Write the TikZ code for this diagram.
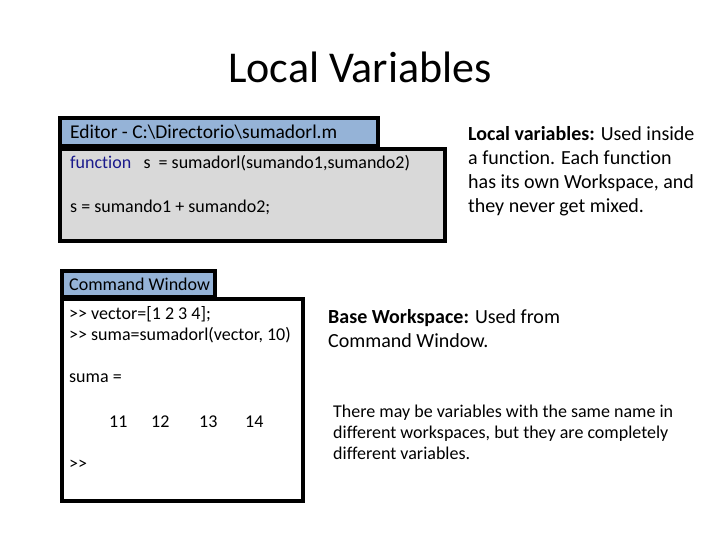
\documentclass[tikz,border=0pt]{standalone}
\usepackage{fontspec}
\setmainfont{Carlito}[Ligatures=NoCommon]
\usetikzlibrary{positioning}
\definecolor{titleblue}{HTML}{95B3D7}
\definecolor{editgray}{HTML}{D9D9D9}
\definecolor{keyblue}{HTML}{1A1A8C}
\newcommand{\prompt}{{>}{>}}
\tikzset{
  winbox/.style={draw=black, line width=3.5pt},
  codetext/.style={anchor=west, inner sep=0pt, font=\fontsize{18}{21}\selectfont},
  notetext/.style={anchor=north west, inner sep=0pt, align=left}
}
\begin{document}
\begin{tikzpicture}[x=1pt, y=-1pt]
    \useasboundingbox (0,0) rectangle (720,540);

    % Title
    \node (title) at (360,67) {\fontsize{44}{52}\selectfont Local Variables};

    % Editor
    \draw[winbox, fill=editgray] (60,149) rectangle (445,241);
    \draw[winbox, fill=titleblue] (60,118) rectangle (378,146);
    \node[codetext, font=\fontsize{19.5}{22}\selectfont] (edtitle) at (70,132) {Editor - C:\textbackslash Directorio\textbackslash sumadorl.m};
    \node[codetext] (edline1) at (70,163) {\textcolor{keyblue}{function}\ \ \ s \ = sumadorl(sumando1,sumando2)};
    \node[codetext] (edline2) at (70,207) {s = sumando1 + sumando2;};

    % Command Window
    \draw[winbox, fill=white] (62,299) rectangle (303,501);
    \draw[winbox, fill=titleblue] (62,271) rectangle (215,297);
    \node[codetext] (cmdtitle) at (69,284) {Command Window};
    \node[codetext] (cmdline1) at (69,314) {\prompt{} vector=[1 2 3 4];};
    \node[codetext] (cmdline2) at (69,335) {\prompt{} suma=sumadorl(vector, 10)};
    \node[codetext] (cmdline3) at (69,378) {suma =};
    \node[codetext] (val1) at (109,422) {11};
    \node[codetext] (val2) at (151,422) {12};
    \node[codetext] (val3) at (199,422) {13};
    \node[codetext] (val4) at (245,422) {14};
    \node[codetext] (cmdline4) at (69,465) {\prompt};

    % Notes
    \node[notetext, font=\fontsize{20}{24}\selectfont] (localnote) at (468,126)
      {\textbf{Local variables:} Used inside\\a function. Each function\\has its own Workspace, and\\they never get mixed.};
    \node[notetext, font=\fontsize{20}{24}\selectfont] (basenote) at (328,309)
      {\textbf{Base Workspace:} Used from\\Command Window.};
    \node[notetext, font=\fontsize{18}{21}\selectfont] (samenote) at (333,405)
      {There may be variables with the same name in\\different workspaces, but they are completely\\different variables.};
\end{tikzpicture}
\end{document}
